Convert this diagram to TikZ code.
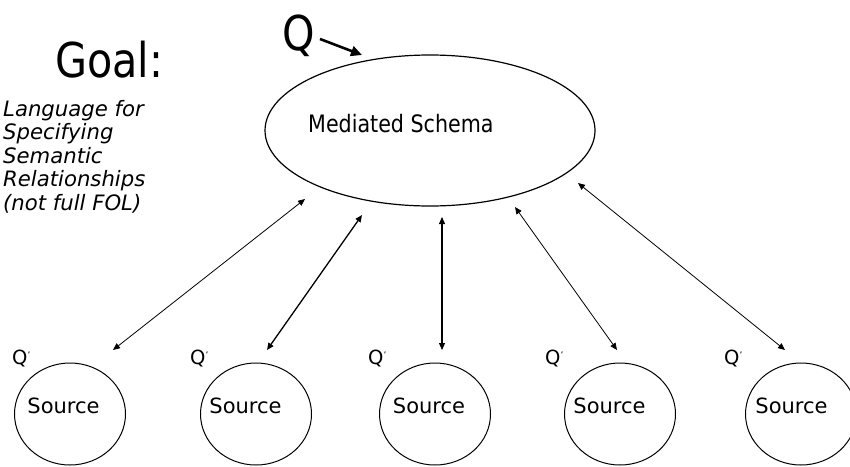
\documentclass[tikz,border=0pt]{standalone}
\usepackage{fontspec}
\setmainfont{DejaVu Sans}
\newfontfamily\narrowsans[FakeStretch=0.86]{DejaVu Sans}
\usetikzlibrary{arrows.meta,shapes.geometric}
\begin{document}
\begin{tikzpicture}[x=1pt,y=-1pt,
  bubble/.style={draw, ellipse, inner sep=0pt, line width=1pt},
  txt/.style={anchor=base west, inner sep=0pt},
  note/.style={txt, font=\fontsize{21.2}{24}\selectfont\itshape},
  link/.style={{Triangle[length=7pt,width=6pt]}-{Triangle[length=7pt,width=6pt]}, line width=0.8pt},
  qprime/.style={txt, font=\fontsize{19.5}{22}\selectfont},
]
\useasboundingbox (0,0) rectangle (850,466);

% heading and explanatory note
\node[txt, font=\narrowsans\fontsize{48}{52}\selectfont] (goal) at (55,77) {Goal:};
\node[note] (n1) at (3,116) {Language for};
\node[note] (n2) at (3,139.5) {Specifying};
\node[note] (n3) at (3,163) {Semantic};
\node[note] (n4) at (3,186.5) {Relationships};
\node[note] (n5) at (3,210) {(not full FOL)};

% mediated schema and incoming query
\node[bubble, line width=1.2pt, minimum width=330pt, minimum height=151pt] (ms) at (430,130.5) {};
\node[txt, font=\narrowsans\fontsize{24}{28}\selectfont] (mslabel) at (308,132) {Mediated Schema};
\node[txt, font=\narrowsans\fontsize{48}{52}\selectfont] (q) at (282,50) {Q};
\coordinate (qfrom) at (320,39);
\coordinate (qto) at (362,55);
\draw[line width=2.6pt, -{Triangle[length=11pt,width=10pt]}] (qfrom) -- (qto);

% sources with their rewritten queries
\foreach \i/\cx/\tx/\qx in {1/70/63.5/12, 2/256/245.5/190, 3/435/429/368, 4/620/609.5/545, 5/801/791.5/724} {
  \node[bubble, minimum width=111pt, minimum height=102pt] (src\i) at (\cx,414) {};
  \node[anchor=base, inner sep=0pt, font=\fontsize{21}{24}\selectfont] (srclabel\i) at (\tx,413) {Source};
  \node[qprime] (qp\i) at (\qx,364) {Q\raisebox{6pt}{\fontsize{9}{9}\selectfont ’}};
}

% mappings between the schema and each source
\coordinate (m1) at (305,199);   \coordinate (d1) at (113,350);
\coordinate (m2) at (362,215);   \coordinate (d2) at (267,350);
\coordinate (m3) at (442,217);   \coordinate (d3) at (442,350);
\coordinate (m4) at (515,207);   \coordinate (d4) at (617,350);
\coordinate (m5) at (578,183);   \coordinate (d5) at (785,350);
\draw[link] (m1) -- (d1);
\draw[link, line width=1.3pt] (m2) -- (d2);
\draw[link, line width=1.1pt] (m3) -- (d3);
\draw[link] (m4) -- (d4);
\draw[link] (m5) -- (d5);
\end{tikzpicture}
\end{document}
